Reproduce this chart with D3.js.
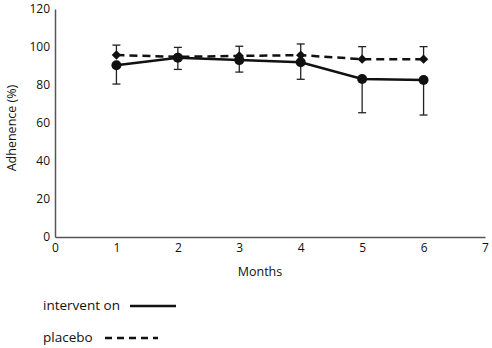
<!DOCTYPE html>
<html>
<head>
<meta charset="utf-8">
<script src="https://cdn.jsdelivr.net/npm/d3@7"></script>
<style>
  html, body { margin: 0; padding: 0; background: #fff; }
  text { font-family: "Open Sans", sans-serif; fill: #111; }
</style>
</head>
<body>
<div id="chart"></div>
<script>
// Adherence over months: intervention vs placebo
const months = [1, 2, 3, 4, 5, 6];
const interventionValues = [90.4, 94.4, 93.1, 92.0, 83.2, 82.6];
const interventionLower = [80.5, 88.2, 86.8, 83.0, 65.4, 64.2];
const placeboValues = [95.8, 94.8, 95.3, 95.7, 93.6, 93.6];
const placeboUpper = [101.0, 99.8, 100.4, 101.6, 100.2, 100.2];
const xTicks = [0, 1, 2, 3, 4, 5, 6, 7];
const yTicks = [0, 20, 40, 60, 80, 100, 120];
const legendLabels = ["intervent on", "placebo"];

const width = 492, height = 348;
const margin = { top: 9, right: 7, bottom: 111, left: 55 };

const svg = d3.select("#chart").append("svg")
  .attr("width", width)
  .attr("height", height);

const x = d3.scaleLinear().domain([0, 7]).range([margin.left, width - margin.right]);
const y = d3.scaleLinear().domain([0, 120]).range([height - margin.bottom, margin.top]);

const AXIS = "#555";

// Axes
svg.append("g")
  .attr("transform", `translate(0, ${y(0)})`)
  .call(d3.axisBottom(x).tickValues(xTicks).tickFormat(d3.format("d")).tickSize(0).tickPadding(6))
  .call(g => g.select(".domain").attr("stroke", AXIS).attr("stroke-width", 1.5))
  .selectAll("text")
  .style("font-family", "Open Sans, sans-serif")
  .style("font-size", "12px")
  .attr("fill", "#111");

svg.append("g")
  .attr("transform", `translate(${x(0)}, 0)`)
  .call(d3.axisLeft(y).tickValues(yTicks).tickFormat(d3.format("d")).tickSize(0).tickPadding(5))
  .call(g => g.select(".domain").attr("stroke", AXIS).attr("stroke-width", 1.5))
  .selectAll("text")
  .style("font-family", "Open Sans, sans-serif")
  .style("font-size", "12px")
  .attr("fill", "#111");

// Axis labels
svg.append("text")
  .attr("x", 260).attr("y", 276)
  .attr("text-anchor", "middle")
  .style("font-size", "12.5px")
  .text("Months");

svg.append("text")
  .attr("transform", "rotate(-90)")
  .attr("x", -128).attr("y", 16)
  .attr("text-anchor", "middle")
  .style("font-size", "12.5px")
  .text("Adhenence (%)");

const interv = months.map((m, i) => ({ m, v: interventionValues[i], lo: interventionLower[i] }));
const plac = months.map((m, i) => ({ m, v: placeboValues[i], hi: placeboUpper[i] }));

const line = d3.line().x(d => x(d.m)).y(d => y(d.v));
const capW = 4;

// Error bars: placebo upward, intervention downward
const errG = svg.append("g").attr("stroke", "#222").attr("stroke-width", 1.3);
plac.forEach(d => {
  errG.append("line").attr("x1", x(d.m)).attr("x2", x(d.m)).attr("y1", y(d.v)).attr("y2", y(d.hi));
  errG.append("line").attr("x1", x(d.m) - capW).attr("x2", x(d.m) + capW).attr("y1", y(d.hi)).attr("y2", y(d.hi));
});
interv.forEach(d => {
  errG.append("line").attr("x1", x(d.m)).attr("x2", x(d.m)).attr("y1", y(d.v)).attr("y2", y(d.lo));
  errG.append("line").attr("x1", x(d.m) - capW).attr("x2", x(d.m) + capW).attr("y1", y(d.lo)).attr("y2", y(d.lo));
});

// Placebo dashed line + diamonds
svg.append("path")
  .datum(plac)
  .attr("d", line)
  .attr("fill", "none")
  .attr("stroke", "#111")
  .attr("stroke-width", 2.5)
  .attr("stroke-dasharray", "8,5");

svg.selectAll(".diamond")
  .data(plac)
  .join("path")
  .attr("class", "diamond")
  .attr("d", d3.symbol(d3.symbolDiamond2, 56))
  .attr("transform", d => `translate(${x(d.m)}, ${y(d.v)})`)
  .attr("fill", "#111");

// Intervention solid line + circles
svg.append("path")
  .datum(interv)
  .attr("d", line)
  .attr("fill", "none")
  .attr("stroke", "#111")
  .attr("stroke-width", 2.5);

svg.selectAll(".dot")
  .data(interv)
  .join("circle")
  .attr("class", "dot")
  .attr("cx", d => x(d.m))
  .attr("cy", d => y(d.v))
  .attr("r", 5)
  .attr("fill", "#111");

// Legend
const legend = [
  { label: legendLabels[0], ty: 305, x1: 130, x2: 176, dash: null },
  { label: legendLabels[1], ty: 337, x1: 105, x2: 158, dash: "7,5" }
];
legend.forEach(l => {
  svg.append("text")
    .attr("x", 43).attr("y", l.ty + 5)
    .style("font-size", "13.5px")
    .text(l.label);
  svg.append("line")
    .attr("x1", l.x1).attr("x2", l.x2)
    .attr("y1", l.ty + 1).attr("y2", l.ty + 1)
    .attr("stroke", "#111")
    .attr("stroke-width", 2.5)
    .attr("stroke-dasharray", l.dash);
});
</script>
</body>
</html>
